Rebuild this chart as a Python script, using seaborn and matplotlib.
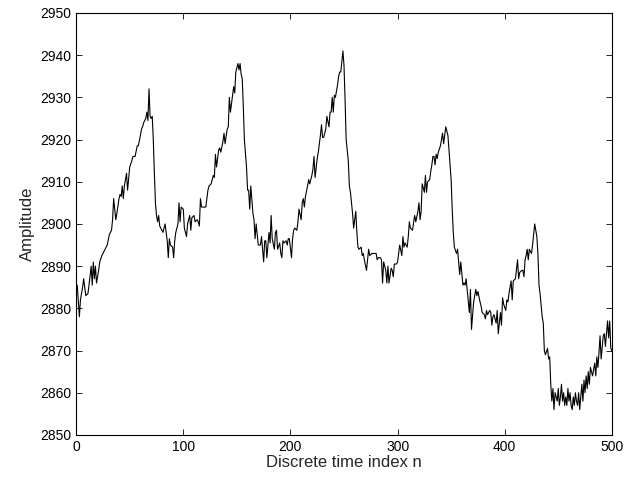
import matplotlib
matplotlib.use("Agg")
import matplotlib.pyplot as plt
import pandas as pd
import seaborn as sns

# Sample index and amplitude
n_idx = [
    0, 1, 3, 4, 6, 7, 9, 11, 12, 14, 15, 16, 17, 18, 19, 21, 22, 24, 27, 29,
    31, 33, 34, 35, 37, 38, 40, 41, 42, 43, 44, 45, 46, 47, 48, 50, 52, 53, 55, 57,
    58, 60, 61, 62, 63, 65, 66, 67, 68, 69, 70, 71, 72, 73, 74, 75, 76, 77, 78, 80,
    81, 83, 85, 86, 87, 88, 90, 91, 92, 93, 95, 96, 97, 98, 100, 101, 103, 104, 106, 107,
    108, 110, 111, 113, 114, 115, 116, 117, 118, 121, 123, 124, 126, 128, 129, 130, 131, 133, 134, 135,
    137, 138, 139, 141, 142, 143, 144, 146, 147, 148, 149, 151, 152, 153, 154, 155, 156, 157, 159, 160,
    161, 162, 163, 165, 166, 167, 168, 170, 171, 172, 173, 175, 176, 177, 178, 180, 181, 182, 183, 185,
    186, 187, 188, 190, 191, 192, 193, 194, 196, 197, 198, 199, 201, 202, 203, 204, 206, 207, 208, 210,
    211, 212, 213, 214, 216, 217, 218, 220, 221, 222, 223, 225, 226, 228, 229, 230, 231, 233, 234, 236,
    237, 238, 239, 240, 241, 242, 244, 245, 246, 247, 249, 250, 251, 252, 254, 255, 256, 257, 258, 259,
    261, 262, 263, 264, 266, 267, 268, 269, 271, 272, 273, 274, 276, 277, 279, 280, 281, 282, 284, 285,
    286, 287, 289, 290, 291, 292, 294, 295, 296, 297, 299, 300, 301, 302, 304, 305, 306, 307, 309, 310,
    311, 312, 314, 315, 316, 317, 319, 320, 321, 322, 323, 325, 326, 327, 328, 330, 331, 332, 333, 334,
    335, 336, 337, 338, 340, 341, 342, 343, 345, 346, 347, 348, 350, 351, 352, 353, 355, 356, 357, 358,
    359, 361, 362, 363, 364, 366, 367, 368, 369, 371, 372, 373, 374, 375, 377, 378, 379, 381, 382, 383,
    384, 386, 387, 388, 389, 390, 392, 393, 394, 396, 397, 398, 399, 401, 402, 403, 404, 406, 407, 408,
    410, 412, 413, 414, 416, 417, 418, 419, 420, 421, 422, 423, 425, 426, 427, 428, 430, 431, 432, 433,
    435, 436, 437, 438, 440, 441, 442, 443, 444, 445, 446, 447, 449, 450, 451, 452, 453, 454, 455, 456,
    457, 458, 459, 460, 461, 462, 463, 464, 465, 466, 467, 468, 469, 470, 471, 472, 473, 474, 475, 476,
    477, 478, 479, 480, 482, 484, 485, 486, 487, 488, 489, 490, 492, 493, 494, 496, 497, 498, 499, 500,
]

amplitude = [
    2885.5, 2885.5, 2878, 2882, 2885, 2887, 2883, 2883.5, 2885.5, 2890, 2885.5, 2891, 2887, 2890, 2886, 2889, 2891, 2892.5, 2894, 2895,
    2897.5, 2898.5, 2901, 2906, 2901, 2902.5, 2906, 2907, 2906.5, 2909, 2906, 2909, 2910.5, 2912, 2908, 2913.5, 2915, 2916, 2916, 2918.5,
    2918.5, 2921, 2922.5, 2923, 2924, 2925, 2926.5, 2924.5, 2932, 2925.5, 2925, 2925.5, 2920, 2912, 2905, 2902, 2900.5, 2902, 2899.5, 2898.5,
    2898, 2900, 2896, 2892, 2896.5, 2895, 2894.5, 2892, 2896, 2898, 2900, 2905, 2900.5, 2904, 2903.5, 2899, 2897, 2900, 2902, 2898.5,
    2901.5, 2902, 2900.5, 2901, 2900.5, 2899.5, 2906, 2904, 2904, 2904, 2908, 2909, 2909.5, 2911.5, 2911, 2916.5, 2913.5, 2917.5, 2918, 2917,
    2919.5, 2921.5, 2919, 2922.5, 2923, 2930, 2926.5, 2930.5, 2932.5, 2931, 2936, 2938, 2936.5, 2938, 2935.5, 2934.5, 2928, 2920, 2913.5, 2908,
    2908, 2903.5, 2909, 2902.5, 2901, 2896.5, 2900, 2895, 2895, 2895, 2897, 2891, 2896, 2896, 2892, 2898, 2895.5, 2902, 2896.5, 2894,
    2898, 2898.5, 2894, 2895.5, 2893, 2892, 2896, 2895.5, 2896, 2895, 2896.5, 2896.5, 2892, 2896.5, 2898.5, 2899, 2898.5, 2900.5, 2903.5, 2901,
    2905, 2906, 2904, 2906.5, 2909, 2910.5, 2909.5, 2911.5, 2913, 2916, 2911, 2915.5, 2917, 2921, 2923.5, 2920.5, 2920.5, 2922.5, 2925.5, 2923,
    2926.5, 2926.5, 2930, 2926.5, 2930.5, 2930, 2933, 2935, 2936, 2936, 2941, 2937.5, 2929.5, 2920, 2915, 2909, 2907.5, 2905, 2902.5, 2899,
    2903, 2898, 2894.5, 2894, 2894.5, 2892.5, 2893, 2891.5, 2889, 2891.5, 2894, 2892.5, 2893, 2893, 2893, 2893, 2891.5, 2892, 2892, 2891.5,
    2886, 2891, 2889, 2886, 2890, 2886, 2889.5, 2889, 2887.5, 2890.5, 2890.5, 2891, 2893, 2895, 2892.5, 2897, 2894.5, 2895.5, 2894.5, 2897,
    2900.5, 2899, 2898.5, 2900.5, 2902, 2900.5, 2903, 2905, 2901, 2903, 2909.5, 2907.5, 2911.5, 2907.5, 2910, 2910.5, 2912.5, 2914, 2916, 2916,
    2914, 2916.5, 2915.5, 2917, 2918.5, 2920, 2921.5, 2919, 2923, 2922, 2921, 2917.5, 2910.5, 2903.5, 2898, 2894.5, 2893, 2894, 2891, 2888,
    2891, 2885.5, 2886, 2885.5, 2887, 2881.5, 2879, 2884.5, 2875, 2881.5, 2883, 2884.5, 2883, 2884, 2881.5, 2880.5, 2879, 2878.5, 2877.5, 2879.5,
    2878.5, 2879.5, 2879, 2876, 2878, 2878.5, 2876.5, 2879.5, 2874, 2879, 2876, 2882.5, 2881, 2879.5, 2882, 2881.5, 2883.5, 2886.5, 2882, 2886.5,
    2887, 2891.5, 2887, 2888.5, 2889, 2889, 2887.5, 2891.5, 2892.5, 2894, 2891.5, 2894, 2893, 2895, 2897.5, 2900, 2897, 2893, 2885.5, 2883.5,
    2878, 2876.5, 2870, 2869, 2870.5, 2868, 2868.5, 2862, 2858, 2861, 2856, 2860, 2858, 2861, 2857, 2859, 2862, 2858, 2860, 2857,
    2859, 2857, 2861, 2858, 2860, 2857, 2856, 2859, 2857, 2860, 2858, 2857, 2860, 2856, 2859, 2862, 2858, 2863, 2860, 2864,
    2861, 2865, 2862, 2866, 2864, 2867, 2864, 2868.5, 2866, 2869.5, 2873.5, 2868, 2873.5, 2874, 2871, 2877, 2873, 2877, 2870.5, 2870,
]

x_ticks = [0, 100, 200, 300, 400, 500]
y_ticks = [2850, 2860, 2870, 2880, 2890, 2900, 2910, 2920, 2930, 2940, 2950]


def main() -> None:
    df = pd.DataFrame({"n": n_idx, "amp": amplitude})

    sns.set_style("ticks")
    plt.rcParams["font.family"] = ["Liberation Sans", "DejaVu Sans"]

    fig = plt.figure(figsize=(6.40, 4.79), dpi=100)
    ax = fig.add_axes([0.119, 0.092, 0.837, 0.881])

    sns.lineplot(data=df, x="n", y="amp", color="black", linewidth=0.8, ax=ax)

    ax.set_xlim(0, 500)
    ax.set_ylim(2850, 2950)
    ax.set_xticks(x_ticks)
    ax.set_yticks(y_ticks)
    ax.tick_params(direction="in", top=True, right=True, length=4, width=0.6,
                   labelsize=10, colors="black")
    for spine in ax.spines.values():
        spine.set_visible(True)
        spine.set_linewidth(0.8)
        spine.set_color("black")

    ax.set_xlabel("Discrete time index n", fontsize=12, labelpad=1)
    ax.set_ylabel("Amplitude", fontsize=12, labelpad=4)

    fig.savefig("out.png", dpi=100)
    plt.close(fig)


if __name__ == "__main__":
    main()
